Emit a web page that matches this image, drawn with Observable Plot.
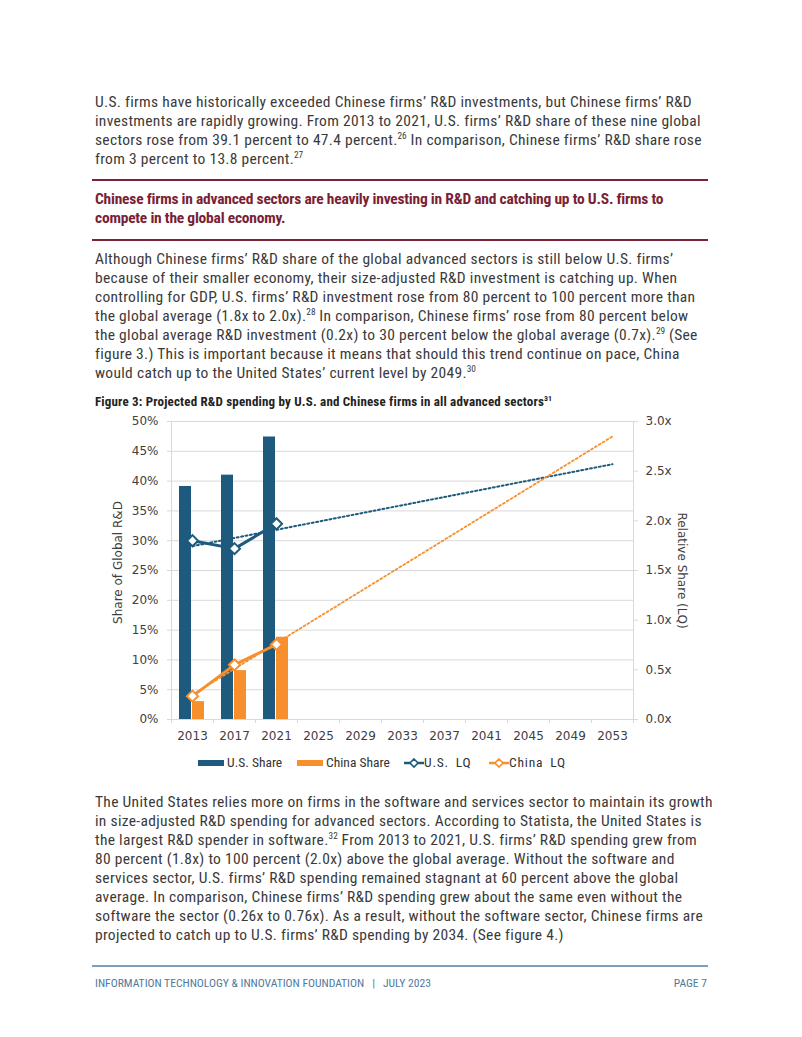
<!DOCTYPE html>
<html><head><meta charset="utf-8">
<script src="https://cdn.jsdelivr.net/npm/d3@7"></script>
<script src="https://cdn.jsdelivr.net/npm/@observablehq/plot@0.6"></script>
<style>
html,body{margin:0;padding:0;background:#fff}
body{width:802px;height:1037px;position:relative;overflow:hidden;font-family:"Liberation Sans Narrow","Arial Narrow","Roboto Condensed",sans-serif;color:#3a3a3a}
.ln{position:absolute;left:95px;white-space:nowrap;font-size:15.5px;line-height:19px;letter-spacing:0.3px}
.hd{position:absolute;left:95px;white-space:nowrap;font-size:15.5px;line-height:19px;font-weight:bold;color:#7a1f35;letter-spacing:-0.22px}
sup{font-size:0.6em;line-height:0;vertical-align:0.6em;letter-spacing:0}
.rule{position:absolute;left:92px;width:616px;height:2px;background:#7a2238}
.ftr{position:absolute;top:976px;font-size:11.6px;line-height:14px;color:#4f7a9d;white-space:nowrap}
#fig{position:absolute;left:95px;top:410px}
.ftitle{position:absolute;left:95px;top:394px;font-size:13px;font-weight:bold;color:#222;white-space:nowrap;letter-spacing:0.18px}
.leg{position:absolute;top:754px;font-size:13.5px;line-height:16px;color:#333;white-space:nowrap}
</style>
</head><body>
<script>
// ---------- chart data ----------
const years = ["2013","2017","2021","2025","2029","2033","2037","2041","2045","2049","2053"];
const dataYears = ["2013","2017","2021"];
const usShare = [39.1, 41.0, 47.4];
const chinaShare = [3.0, 8.2, 13.8];
const usLQ = [1.80, 1.72, 1.97];
const chinaLQ = [0.235, 0.55, 0.755];
const trendYears = ["2013","2053"];
const usTrend = [1.745, 2.57];
const chinaTrend = [0.25, 2.85];
const shareTicks = [0,5,10,15,20,25,30,35,40,45,50];
const lqTicks = [0,0.5,1,1.5,2,2.5,3];
const seriesNames = ["U.S. Share","China Share","U.S. LQ","China LQ"];
const usColor = "#1d5a7e", chinaColor = "#f7902c";

// ---------- page text ----------
const para1 = [
 "U.S. firms have historically exceeded Chinese firms’ R&amp;D investments, but Chinese firms’ R&amp;D",
 "investments are rapidly growing. From 2013 to 2021, U.S. firms’ R&amp;D share of these nine global",
 "sectors rose from 39.1 percent to 47.4 percent.<sup>26</sup> In comparison, Chinese firms’ R&amp;D share rose",
 "from 3 percent to 13.8 percent.<sup>27</sup>"];
const heading = [
 "Chinese firms in advanced sectors are heavily investing in R&amp;D and catching up to U.S. firms to",
 "compete in the global economy."];
const para2 = [
 "Although Chinese firms’ R&amp;D share of the global advanced sectors is still below U.S. firms’",
 "because of their smaller economy, their size-adjusted R&amp;D investment is catching up. When",
 "controlling for GDP, U.S. firms’ R&amp;D investment rose from 80 percent to 100 percent more than",
 "the global average (1.8x to 2.0x).<sup>28</sup> In comparison, Chinese firms’ rose from 80 percent below",
 "the global average R&amp;D investment (0.2x) to 30 percent below the global average (0.7x).<sup>29</sup> (See",
 "figure 3.) This is important because it means that should this trend continue on pace, China",
 "would catch up to the United States’ current level by 2049.<sup>30</sup>"];
const para3 = [
 "The United States relies more on firms in the software and services sector to maintain its growth",
 "in size-adjusted R&amp;D spending for advanced sectors. According to Statista, the United States is",
 "the largest R&amp;D spender in software.<sup>32</sup> From 2013 to 2021, U.S. firms’ R&amp;D spending grew from",
 "80 percent (1.8x) to 100 percent (2.0x) above the global average. Without the software and",
 "services sector, U.S. firms’ R&amp;D spending remained stagnant at 60 percent above the global",
 "average. In comparison, Chinese firms’ R&amp;D spending grew about the same even without the",
 "software the sector (0.26x to 0.76x). As a result, without the software sector, Chinese firms are",
 "projected to catch up to U.S. firms’ R&amp;D spending by 2034. (See figure 4.)"];

function addLines(lines, top, cls){
  lines.forEach((t,i)=>{
    const d=document.createElement("div");
    d.className=cls; d.style.top=(top+i*19)+"px"; d.innerHTML=t;
    document.body.appendChild(d);
  });
}
addLines(para1, 93, "ln");
addLines(heading, 190, "hd");
addLines(para2, 250, "ln");
addLines(para3, 793, "ln");
function addEl(cls, css, html){
  const d=document.createElement("div"); d.className=cls; d.style.cssText=css; d.innerHTML=html; document.body.appendChild(d); return d;
}
addEl("rule","top:179px","");
addEl("rule","top:239px","");
addEl("ftitle","","Figure 3: Projected R&amp;D spending by U.S. and Chinese firms in all advanced sectors<sup>31</sup>");
addEl("","position:absolute;left:92px;top:965px;width:616px;height:1.5px;background:#7f9fb8","");
addEl("ftr","left:95px","INFORMATION TECHNOLOGY &amp; INNOVATION FOUNDATION &nbsp;&nbsp;|&nbsp;&nbsp; JULY 2023");
addEl("ftr","right:95px","PAGE 7");

// ---------- chart ----------
const W = 620, H = 339, mL = 76, mR = 82, mT = 11, mB = 30;
const bw = (W - mL - mR) / years.length;
const toPct = v => v * 50 / 3;
const shareData = dataYears.map((y,i)=>({year:y, us:usShare[i], china:chinaShare[i], usLQ:toPct(usLQ[i]), chinaLQ:toPct(chinaLQ[i])}));
const trendData = trendYears.map((y,i)=>({year:y, us:toPct(usTrend[i]), china:toPct(chinaTrend[i])}));
const grid = "#d9d9d9";

const chart = Plot.plot({
  width: W, height: H, marginLeft: mL, marginRight: mR, marginTop: mT, marginBottom: mB,
  style: {fontFamily: "DejaVu Sans", fontSize: "12px", color: "#404040", background: "transparent"},
  x: {type: "band", domain: years, padding: 0},
  y: {domain: [0, 50]},
  marks: [
    Plot.gridY(shareTicks, {stroke: grid, strokeOpacity: 1}),
    Plot.frame({stroke: grid}),
    Plot.axisY(shareTicks, {anchor: "left", tickSize: 4, tickPadding: 9, stroke: grid, fill: "#404040", tickFormat: d => d + "%", label: null}),
    Plot.axisY(lqTicks.map(toPct), {anchor: "right", tickSize: 4, tickPadding: 8, stroke: grid, fill: "#404040", tickFormat: d => (d * 3 / 50).toFixed(1) + "x", label: null}),
    Plot.axisX({tickSize: 0, tickPadding: 12, fill: "#404040", label: null}),
    Plot.ruleX(years, {x: d => d, y1: 0, y2: 0, dx: -bw/2, insetBottom: -4, stroke: grid}),
    Plot.ruleX([years[years.length-1]], {x: d => d, y1: 0, y2: 0, dx: bw/2, insetBottom: -4, stroke: grid}),
    Plot.text([seriesNames[0]], {text: () => "Share of Global R&D", frameAnchor: "left", textAnchor: "middle", dx: -53, dy: -8, rotate: -90, fill: "#404040"}),
    Plot.text([seriesNames[2]], {text: () => "Relative Share (LQ)", frameAnchor: "right", textAnchor: "middle", dx: 48, rotate: 90, fill: "#404040"}),
    Plot.barY(shareData, {x: "year", y: "us", fill: usColor, insetLeft: 8, insetRight: 22}),
    Plot.barY(shareData, {x: "year", y: "china", fill: chinaColor, insetLeft: 21, insetRight: 9}),
    Plot.line(trendData, {x: "year", y: "us", stroke: usColor, strokeWidth: 2, strokeDasharray: "2,2.5"}),
    Plot.line(trendData, {x: "year", y: "china", stroke: chinaColor, strokeWidth: 1.8, strokeDasharray: "2,2.5"}),
    Plot.line(shareData, {x: "year", y: "usLQ", stroke: usColor, strokeWidth: 3}),
    Plot.line(shareData, {x: "year", y: "chinaLQ", stroke: chinaColor, strokeWidth: 3}),
    Plot.dot(shareData, {x: "year", y: "usLQ", symbol: "diamond2", r: 5, fill: "white", stroke: usColor, strokeWidth: 2}),
    Plot.dot(shareData, {x: "year", y: "chinaLQ", symbol: "diamond2", r: 5, fill: "white", stroke: chinaColor, strokeWidth: 2})
  ]
});
const fig = document.createElement("div"); fig.id = "fig"; fig.appendChild(chart); document.body.appendChild(fig);

// ---------- legend ----------
function swatchRect(color){ return `<svg width="26" height="8" style="vertical-align:middle"><rect x="0" y="1" width="26" height="6" fill="${color}"/></svg>`; }
function swatchLine(color){ return `<svg width="20" height="12" style="vertical-align:middle"><line x1="0" y1="6" x2="20" y2="6" stroke="${color}" stroke-width="2.5"/><path d="M10 2 L14 6 L10 10 L6 6 Z" fill="white" stroke="${color}" stroke-width="1.6"/></svg>`; }
addEl("leg","left:198px", swatchRect(usColor) + " " + seriesNames[0]);
addEl("leg","left:297px", swatchRect(chinaColor) + " " + seriesNames[1]);
addEl("leg","left:404px;letter-spacing:0.8px;word-spacing:3px", swatchLine(usColor) + seriesNames[2]);
addEl("leg","left:489px;letter-spacing:0.8px;word-spacing:3px", swatchLine(chinaColor) + seriesNames[3]);
</script>
</body></html>
